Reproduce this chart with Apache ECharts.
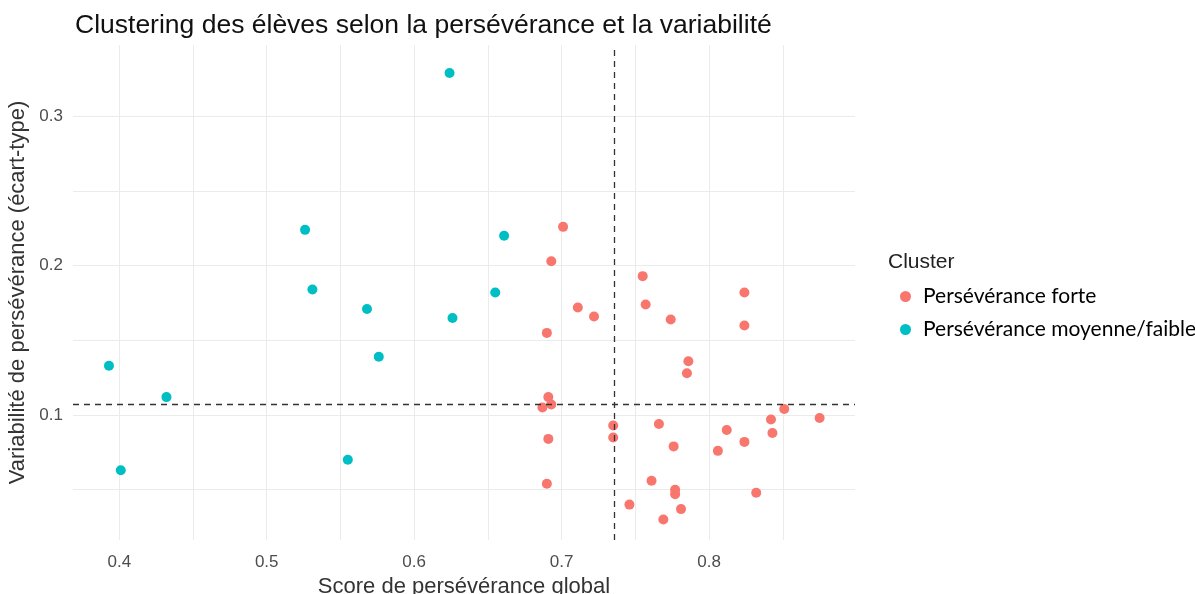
<!DOCTYPE html>
<html>
<head>
    <meta charset="utf-8" />
    <title>Clustering</title>
    <script src="https://cdn.jsdelivr.net/npm/echarts@6/dist/echarts.min.js"></script>
    <style>
        body { margin: 0; background: #fff; }
    </style>
</head>
<body>
    <div id="main" style="width: 1195px;height:594px;"></div>

    <script type="text/javascript">
        // [score global, écart-type]
        var forte = [
            [0.701, 0.226], [0.693, 0.203], [0.755, 0.193], [0.757, 0.174],
            [0.711, 0.172], [0.722, 0.166], [0.774, 0.164], [0.690, 0.155],
            [0.824, 0.182], [0.824, 0.160], [0.786, 0.136], [0.785, 0.128],
            [0.691, 0.112], [0.687, 0.105], [0.693, 0.107], [0.691, 0.084],
            [0.690, 0.054], [0.735, 0.093], [0.735, 0.085], [0.766, 0.094],
            [0.776, 0.079], [0.761, 0.056], [0.746, 0.040], [0.769, 0.030],
            [0.777, 0.050], [0.777, 0.047], [0.781, 0.037], [0.806, 0.076],
            [0.812, 0.090], [0.824, 0.082], [0.832, 0.048], [0.842, 0.097],
            [0.843, 0.088], [0.851, 0.104], [0.875, 0.098]
        ];
        var moyenne = [
            [0.393, 0.133], [0.432, 0.112], [0.401, 0.063], [0.531, 0.184],
            [0.568, 0.171], [0.576, 0.139], [0.555, 0.070], [0.626, 0.165],
            [0.655, 0.182], [0.624, 0.329], [0.526, 0.224], [0.661, 0.220]
        ];
        // seuils (moyennes) tracés en pointillés
        var seuilX = 0.7354;
        var seuilY = 0.1069;

        var xLabels = [0.4, 0.5, 0.6, 0.7, 0.8];
        var xGrid = [0.4, 0.45, 0.5, 0.55, 0.6, 0.65, 0.7, 0.75, 0.8, 0.85];
        var yLabels = [0.1, 0.2, 0.3];
        var yGrid = [0.05, 0.1, 0.15, 0.2, 0.25, 0.3];

        var myChart = echarts.init(document.getElementById('main'));

        var axisFont = { color: '#4d4d4d', fontSize: 17, fontFamily: 'Liberation Sans' };
        var nameFont = { color: '#333', fontSize: 22, fontFamily: 'Liberation Sans' };

        var option = {
            backgroundColor: '#fff',
            animation: false,
            title: [
                {
                    text: 'Clustering des élèves selon la persévérance et la variabilité',
                    left: 70, top: 7,
                    textStyle: { color: '#111', fontSize: 26.5, fontWeight: 'normal', fontFamily: 'Liberation Sans' }
                },
                {
                    text: 'Cluster',
                    left: 883, top: 247,
                    textStyle: { color: '#222', fontSize: 21, fontWeight: 'normal', fontFamily: 'Liberation Sans' }
                }
            ],
            legend: {
                orient: 'vertical',
                left: 895, top: 281,
                itemGap: 12,
                itemWidth: 25, itemHeight: 11,
                icon: 'circle',
                textStyle: { color: '#000', fontSize: 21, fontFamily: 'Lato' },
                data: ['Persévérance forte', 'Persévérance moyenne/faible']
            },
            grid: { left: 73, right: 340, top: 45, bottom: 54, outerBoundsMode: 'none', containLabel: false },
            xAxis: {
                type: 'value',
                min: 0.3686, max: 0.899,
                name: 'Score de persévérance global',
                nameLocation: 'middle', nameGap: 34,
                nameTextStyle: nameFont,
                axisLine: { show: false },
                axisTick: { show: false, customValues: xGrid },
                axisLabel: { customValues: xLabels, margin: 14, textStyle: axisFont },
                splitLine: { show: true, lineStyle: { color: '#ebebeb', width: 1 } }
            },
            yAxis: {
                type: 'value',
                min: 0.0163, max: 0.3478,
                name: 'Variabilité de persévérance (écart-type)',
                nameLocation: 'middle', nameGap: 37,
                nameTextStyle: nameFont,
                axisLine: { show: false },
                axisTick: { show: false, customValues: yGrid },
                axisLabel: { customValues: yLabels, margin: 10, textStyle: axisFont },
                splitLine: { show: true, lineStyle: { color: '#ebebeb', width: 1 } }
            },
            series: [
                {
                    name: 'Persévérance forte',
                    type: 'scatter',
                    symbolSize: 10,
                    itemStyle: { color: '#F8766D', opacity: 1 },
                    data: forte,
                    z: 3,
                    markLine: {
                        silent: true,
                        symbol: 'none',
                        precision: 4,
                        label: { show: false },
                        lineStyle: { color: '#333', type: [6, 5], width: 1.3 },
                        data: [{ xAxis: seuilX }, { yAxis: seuilY }]
                    }
                },
                {
                    name: 'Persévérance moyenne/faible',
                    type: 'scatter',
                    symbolSize: 10,
                    itemStyle: { color: '#00BFC4', opacity: 1 },
                    data: moyenne,
                    z: 3
                }
            ]
        };

        myChart.setOption(option);
    </script>
</body>
</html>
